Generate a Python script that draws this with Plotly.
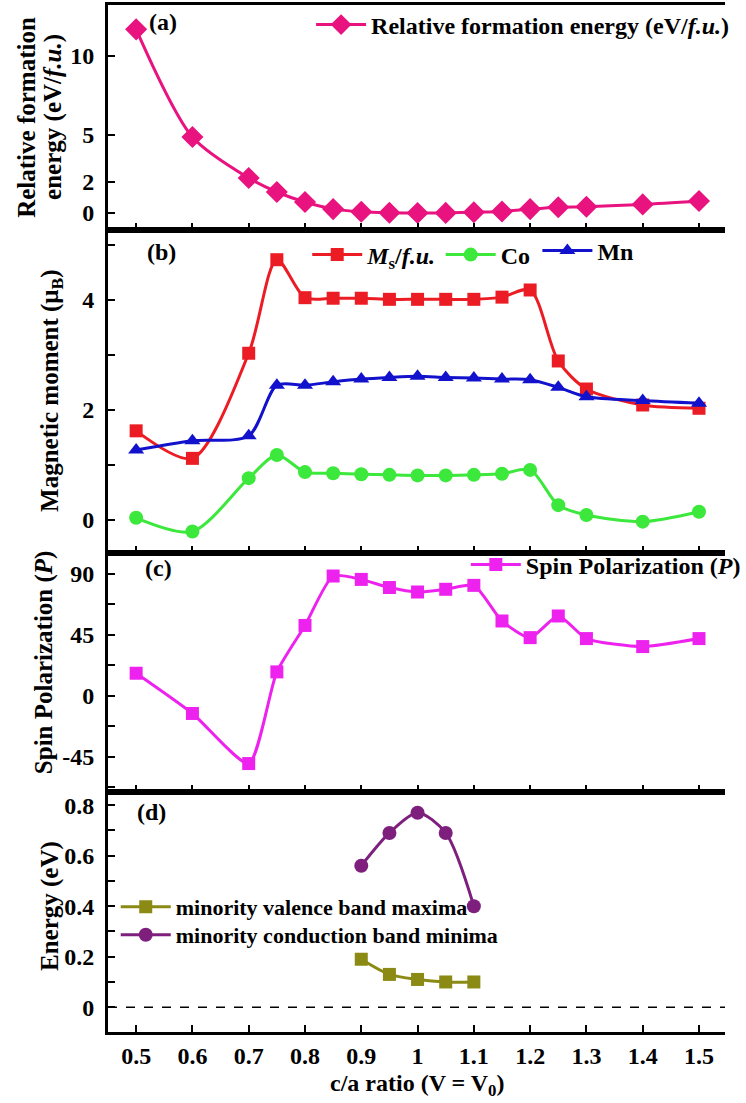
import plotly.graph_objects as go

# ---------------- data ----------------
ratio = [0.5, 0.6, 0.7, 0.75, 0.8, 0.85, 0.9, 0.95, 1.0, 1.05, 1.1, 1.15, 1.2, 1.25, 1.3, 1.4, 1.5]
formation_energy = [11.7, 4.84, 2.23, 1.34, 0.70, 0.25, 0.08, 0.02, 0.0, 0.01, 0.05, 0.10, 0.25, 0.37, 0.40, 0.55, 0.77]
ms_fu = [1.62, 1.12, 3.03, 4.73, 4.04, 4.03, 4.03, 4.01, 4.01, 4.01, 4.01, 4.05, 4.18, 2.89, 2.38, 2.09, 2.03]
co_moment = [0.04, -0.21, 0.76, 1.18, 0.87, 0.85, 0.83, 0.82, 0.81, 0.81, 0.82, 0.84, 0.91, 0.27, 0.09, -0.03, 0.15]
mn_moment = [1.27, 1.44, 1.53, 2.45, 2.45, 2.51, 2.56, 2.59, 2.61, 2.59, 2.58, 2.56, 2.55, 2.41, 2.24, 2.17, 2.12]
spin_pol = [16.7, -13, -50, 17.7, 52, 88.5, 86, 80, 76.7, 78.7, 81.6, 55.3, 43, 59, 42.3, 36.4, 42.3]
gap_ratio = [0.9, 0.95, 1.0, 1.05, 1.1]
vbm = [0.19, 0.13, 0.11, 0.10, 0.10]
cbm = [0.56, 0.69, 0.77, 0.69, 0.40]
x_ticks = [0.5, 0.6, 0.7, 0.8, 0.9, 1.0, 1.1, 1.2, 1.3, 1.4, 1.5]
x_tick_text = ["0.5", "0.6", "0.7", "0.8", "0.9", "1", "1.1", "1.2", "1.3", "1.4", "1.5"]
sp_ticks = [-45, 0, 45, 90]
sp_tick_text = ["-45", "0", "45", "90"]
en_ticks = [0, 0.2, 0.4, 0.6, 0.8]
en_tick_text = ["0", "0.2", "0.4", "0.6", "0.8"]

# ---------------- layout geometry ----------------
W, H = 746, 1103
ML, MR, MT, MB = 108, 0, 5, 71
PW = W - ML - MR
PH = H - MT - MB


def xp(px):
    return (px - ML) / PW


def yp(py):
    return (H - MB - py) / PH


FONT = "Liberation Serif"
LW = 3

fig = go.Figure()

# (a)
fig.add_trace(go.Scatter(
    x=ratio, y=formation_energy, xaxis="x", yaxis="y", mode="lines+markers",
    name="Relative formation energy (eV/<i>f.u.</i>)",
    line=dict(color="#E8137F", width=LW, shape="spline", smoothing=0.8),
    marker=dict(symbol="diamond", size=17, color="#E8137F"), legend="legend"))

# (b)
fig.add_trace(go.Scatter(
    x=ratio, y=ms_fu, xaxis="x2", yaxis="y2", mode="lines+markers",
    name="<i>M</i><sub>s</sub>/<i>f.u.</i>",
    line=dict(color="#EC1C24", width=LW, shape="spline", smoothing=0.8),
    marker=dict(symbol="square", size=13, color="#EC1C24"), legend="legend2"))
fig.add_trace(go.Scatter(
    x=ratio, y=co_moment, xaxis="x2", yaxis="y2", mode="lines+markers",
    name="Co",
    line=dict(color="#3BE83B", width=LW, shape="spline", smoothing=0.8),
    marker=dict(symbol="circle", size=14, color="#3BE83B"), legend="legend3"))
fig.add_trace(go.Scatter(
    x=ratio, y=mn_moment, xaxis="x2", yaxis="y2", mode="lines+markers",
    name="Mn",
    line=dict(color="#1212CC", width=LW, shape="spline", smoothing=0.8),
    marker=dict(symbol="triangle-up", size=14, color="#1212CC"), legend="legend4"))

# (c)
fig.add_trace(go.Scatter(
    x=ratio, y=spin_pol, xaxis="x3", yaxis="y3", mode="lines+markers",
    name="Spin Polarization (<i>P</i>)",
    line=dict(color="#EE22EE", width=LW, shape="spline", smoothing=0.6),
    marker=dict(symbol="square", size=13, color="#EE22EE"), legend="legend5"))

# (d)
fig.add_trace(go.Scatter(
    x=gap_ratio, y=vbm, xaxis="x4", yaxis="y4", mode="lines+markers",
    name="minority valence band maxima",
    line=dict(color="#8A8A14", width=LW, shape="spline", smoothing=0.8),
    marker=dict(symbol="square", size=13, color="#8A8A14"), legend="legend6"))
fig.add_trace(go.Scatter(
    x=gap_ratio, y=cbm, xaxis="x4", yaxis="y4", mode="lines+markers",
    name="minority conduction band minima",
    line=dict(color="#7E1F7E", width=LW, shape="spline", smoothing=0.8),
    marker=dict(symbol="circle", size=14, color="#7E1F7E"), legend="legend7"))

XR = [0.45, 0.45 + PW / 582.0]

xcommon = dict(range=XR, showline=True, linewidth=LW, linecolor="black", mirror=True,
               ticks="inside", ticklen=7, tickwidth=2, tickcolor="black",
               tickvals=x_ticks, ticktext=x_tick_text,
               showgrid=False, zeroline=False,
               tickfont=dict(family=FONT, size=24, color="black", weight="bold"))
ycommon = dict(showline=True, linewidth=LW, linecolor="black", mirror=False,
               ticks="inside", ticklen=7, tickwidth=2, tickcolor="black",
               showgrid=False, zeroline=False, ticklabelstandoff=6,
               tickfont=dict(family=FONT, size=24, color="black", weight="bold"))

dom_a = [yp(230), 1.0]
dom_b = [yp(553), yp(230)]
dom_c = [yp(792), yp(553)]
dom_d = [0.0, yp(792)]

minor_tick = lambda dt: dict(dtick=dt, tick0=0, ticks="inside", ticklen=7, tickwidth=2, tickcolor="black")


def leg(x, y, size=24):
    return dict(x=xp(x), y=yp(y), xanchor="left", yanchor="middle", bgcolor="rgba(0,0,0,0)",
                borderwidth=0, font=dict(family=FONT, size=size, color="black", weight="bold"),
                itemwidth=50, tracegroupgap=0)


fig.update_layout(
    width=W, height=H,
    margin=dict(l=ML, r=MR, t=MT, b=MB),
    paper_bgcolor="white", plot_bgcolor="white",
    font=dict(family=FONT, color="black", weight="bold"),
    showlegend=True,
    xaxis=dict(**xcommon, anchor="y", showticklabels=False),
    yaxis=dict(**ycommon, domain=dom_a, anchor="x", range=[-1.08, 13.25], tickvals=[0, 2, 5, 10]),
    xaxis2=dict(**xcommon, anchor="y2", matches="x", showticklabels=False),
    yaxis2=dict(**ycommon, domain=dom_b, anchor="x2", range=[-0.6, 5.27], tick0=0, dtick=2,
                minor=minor_tick(1)),
    xaxis3=dict(**xcommon, anchor="y3", matches="x", showticklabels=False),
    yaxis3=dict(**ycommon, domain=dom_c, anchor="x3", range=[-71, 105.5],
                tickvals=sp_ticks, ticktext=sp_tick_text, minor=minor_tick(22.5)),
    xaxis4=dict(**xcommon, anchor="y4", matches="x", showticklabels=True),
    yaxis4=dict(**ycommon, domain=dom_d, anchor="x4", range=[-0.098, 0.852],
                tickvals=en_ticks, ticktext=en_tick_text, minor=minor_tick(0.1)),
    legend=leg(318, 25),
    legend2=leg(314, 255),
    legend3=leg(452, 255),
    legend4=leg(552, 251),
    legend5=leg(478, 565),
    legend6=leg(116, 907, 22),
    legend7=leg(116, 935, 22),
)

# dashed zero line in (d)
fig.add_shape(type="line", xref="x4", yref="y4", x0=XR[0], x1=XR[1], y0=0, y1=0,
              line=dict(color="black", width=1.5, dash="dash"))

ann_font = dict(family=FONT, size=25, color="black", weight="bold")
annotations = [
    dict(text="(a)", x=xp(165), y=yp(22)),
    dict(text="(b)", x=xp(163), y=yp(252)),
    dict(text="(c)", x=xp(160), y=yp(568)),
    dict(text="(d)", x=xp(153), y=yp(812)),
]
for a in annotations:
    fig.add_annotation(xref="paper", yref="paper", showarrow=False, xanchor="center", yanchor="middle",
                       font=dict(family=FONT, size=24, color="black", weight="bold"), **a)

ytitles = [
    ("Relative formation", 23, 117),
    ("energy (eV/<i>f.u.</i>)", 51, 117),
    ("Magnetic moment (μ<sub>B</sub>)", 50, 391),
    ("Spin Polarization (<i>P</i>)", 42, 662),
    ("Energy (eV)", 48, 906),
]
for txt, px, py in ytitles:
    fig.add_annotation(xref="paper", yref="paper", x=xp(px), y=yp(py), text=txt, textangle=-90,
                       showarrow=False, xanchor="center", yanchor="middle", font=ann_font)

fig.add_annotation(xref="paper", yref="paper", x=xp(428), y=yp(1085),
                   text="c/a ratio (V = V<sub>0</sub>)", showarrow=False,
                   xanchor="center", yanchor="middle", font=dict(family=FONT, size=24, color="black", weight="bold"))

fig.write_html("out.html")
